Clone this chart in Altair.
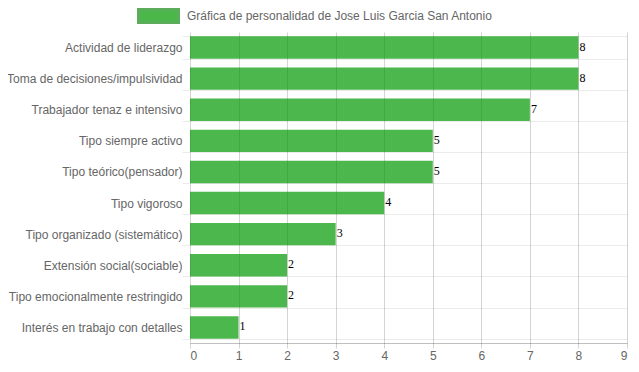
import altair as alt
import pandas as pd

categories = [
    "Actividad de liderazgo",
    "Toma de decisiones/impulsividad",
    "Trabajador tenaz e intensivo",
    "Tipo siempre activo",
    "Tipo teórico(pensador)",
    "Tipo vigoroso",
    "Tipo organizado (sistemático)",
    "Extensión social(sociable)",
    "Tipo emocionalmente restringido",
    "Interés en trabajo con detalles",
]
values = [8, 8, 7, 5, 5, 4, 3, 2, 2, 1]
series_name = "Gráfica de personalidad de Jose Luis Garcia San Antonio"
x_ticks = list(range(0, 10))

df = pd.DataFrame({"cat": categories, "val": values, "serie": [series_name] * len(values)})

FONT = "Liberation Sans"

y_enc = alt.Y(
    "cat:N",
    sort=categories,
    scale=alt.Scale(paddingInner=0.28, paddingOuter=0.14),
    axis=alt.Axis(
        title=None,
        grid=True,
        tickBand="extent",
        gridColor="#000000",
        gridOpacity=0.08,
        tickColor="#000000",
        tickOpacity=0.08,
        tickSize=8,
        domain=False,
        labelPadding=0,
        labelColor="#666666",
        labelFont=FONT,
        labelFontSize=12,
    ),
)

x_enc = alt.X(
    "val:Q",
    scale=alt.Scale(domain=[0, 9], nice=False),
    axis=alt.Axis(
        title=None,
        values=x_ticks,
        grid=True,
        gridColor="#000000",
        gridOpacity=0.17,
        tickColor="#000000",
        tickOpacity=0.17,
        tickSize=5,
        domainColor="#000000",
        domainOpacity=0.25,
        labelPadding=2,
        labelColor="#666666",
        labelFont=FONT,
        labelFontSize=12,
        format="d",
    ),
)

bars = alt.Chart(df).mark_bar(opacity=0.7).encode(
    y=y_enc,
    x=x_enc,
    color=alt.Color(
        "serie:N",
        scale=alt.Scale(range=["#009900"]),
        legend=alt.Legend(
            title=None,
            orient="none",
            legendX=-53,
            legendY=-37.5,
            symbolType="M-1,-0.33L1,-0.33L1,0.33L-1,0.33Z",
            symbolSize=1600,
            symbolStrokeColor="#168a16",
            symbolStrokeWidth=3,
            symbolOpacity=0.7,
            labelOffset=7,
            labelColor="#666666",
            labelFont=FONT,
            labelFontSize=12,
            labelLimit=600,
        ),
    ),
)

labels = alt.Chart(df).mark_text(
    align="left", baseline="alphabetic", dx=1, dy=3, font="Liberation Serif", fontSize=12, color="#000000"
).encode(y=alt.Y("cat:N", sort=categories), x=alt.X("val:Q"), text=alt.Text("val:Q"))

chart = (
    alt.layer(bars, labels)
    .properties(
        width=437,
        height=311,
        autosize=alt.AutoSizeParams(type="none"),
        padding={"left": 182, "top": 24, "right": 4, "bottom": 21},
    )
    .configure_view(stroke=None)
)

chart.save("out.html", embed_options={"renderer": "svg", "actions": False})
